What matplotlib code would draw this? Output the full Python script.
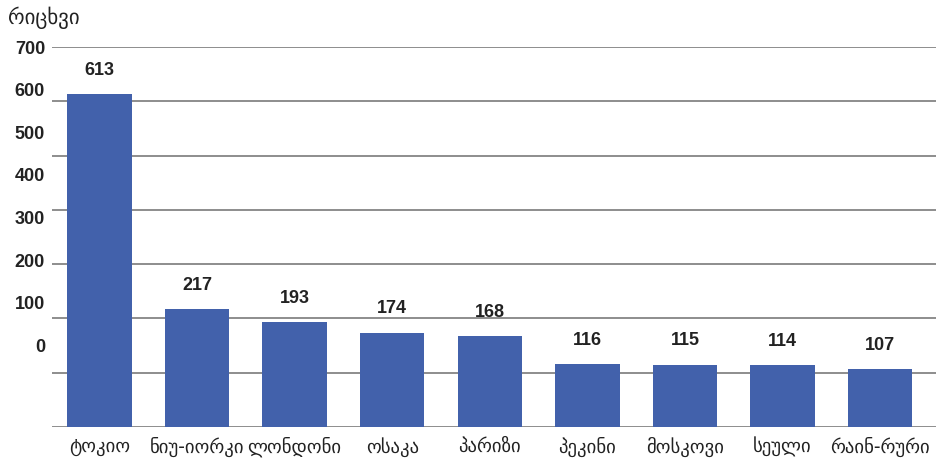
import matplotlib
matplotlib.use("Agg")
import matplotlib.pyplot as plt
import numpy as np

cities = ["ტოკიო", "ნიუ-იორკი", "ლონდონი", "ოსაკა", "პარიზი",
          "პეკინი", "მოსკოვი", "სეული", "რაინ-რური"]
counts = [613, 217, 193, 174, 168, 116, 115, 114, 107]
ytick_labels = ["700", "600", "500", "400", "300", "200", "100", "0"]
grid_values = [0, 100, 200, 300, 400, 500, 600, 700]

plt.rcParams["font.family"] = ["Liberation Sans", "DejaVu Sans"]

fig = plt.figure(figsize=(9.36, 4.61), dpi=100)
ax = fig.add_axes([0.0556, 0.0738, 0.9444, 0.8242])

x = np.arange(len(cities))
for g in grid_values:
    ax.axhline(g, color="#7a7a7a", linewidth=1.2, zorder=1)
ax.bar(x, counts, width=0.66, color="#4261ab", zorder=2)

for xi, v in zip(x, counts):
    ax.annotate(str(v), (xi, v), xytext=(0, 17), textcoords="offset points",
                ha="center", va="center", fontsize=13, fontweight="bold",
                color="#222222")

ax.set_xlim(-0.487, 8.574)
ax.set_ylim(0, 700)

# the source chart's tick labels sit evenly spaced, not on the gridlines
ax.set_yticks(np.linspace(700, 150.5, len(ytick_labels)))
ax.set_yticklabels(ytick_labels, fontsize=13, fontweight="bold", color="#222222")
ax.set_xticks(x)
ax.set_xticklabels(cities, fontsize=13.5, color="#222222",
                   family=["DejaVu Sans"])
ax.tick_params(axis="y", length=0, pad=5)
ax.tick_params(axis="x", length=0, pad=7)

for s in ax.spines.values():
    s.set_visible(False)

fig.text(0.009, 0.962, "რიცხვი", fontsize=15, color="#222222",
         family=["DejaVu Sans"], ha="left", va="center")

fig.savefig("out.png", dpi=100)
